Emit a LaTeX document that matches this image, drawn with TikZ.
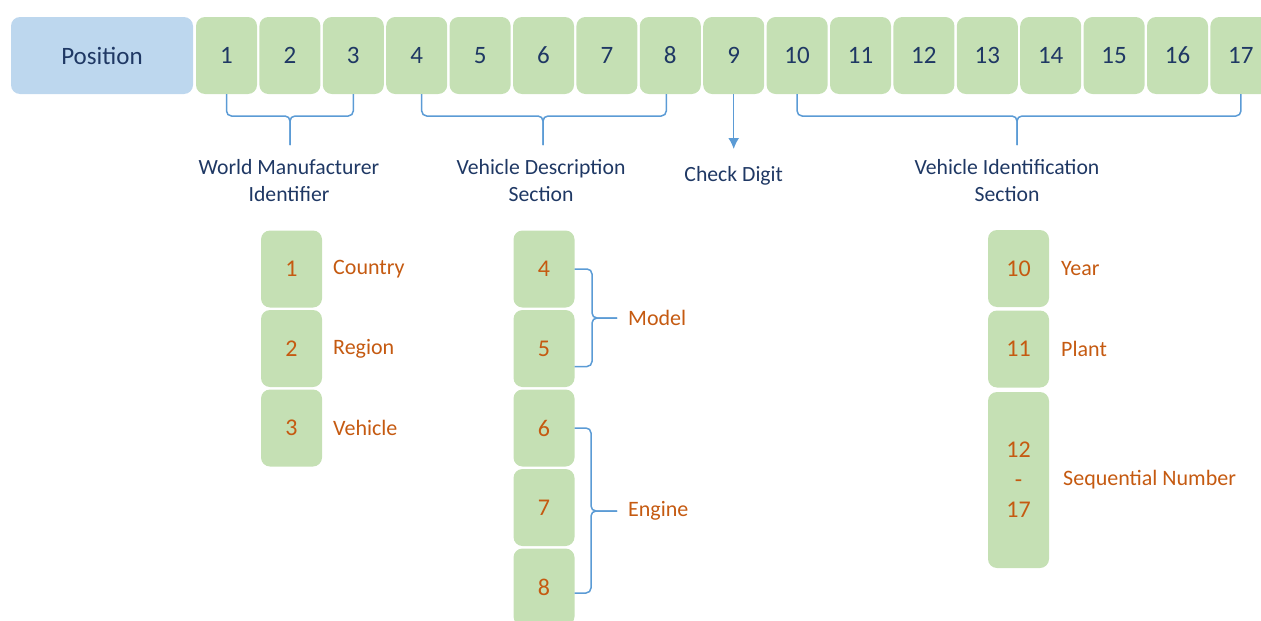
\documentclass[tikz,border=0pt]{standalone}
\usepackage{fontspec}
\setmainfont{Carlito}
\usetikzlibrary{positioning,arrows.meta}

\definecolor{posblue}{HTML}{BDD7EE}
\definecolor{digitgreen}{HTML}{C5E0B4}
\definecolor{navy}{HTML}{1F3864}
\definecolor{rust}{HTML}{C55A11}
\definecolor{bracecol}{HTML}{5B9BD5}

\tikzset{
  digit/.style={fill=digitgreen, rounded corners=9pt, minimum width=61pt,
    minimum height=77pt, inner sep=0pt, outer sep=0pt, text=navy,
    font=\fontsize{25}{30}\selectfont},
  field/.style={digit, text=rust, font=\fontsize{24}{30}\selectfont},
  sec/.style={text=navy, inner sep=0pt, align=center, font=\fontsize{21.7}{27}\selectfont},
  lbl/.style={text=rust, inner sep=0pt, font=\fontsize{22}{26}\selectfont},
  brace/.style={draw=bracecol, line width=1.5pt, rounded corners=5pt},
}

\begin{document}
\begin{tikzpicture}[x=1pt,y=-1pt]

\useasboundingbox (0,0) rectangle (1261,621);
\clip (0,0) rectangle (1261,621);

% Row of positions
\node[digit, fill=posblue, minimum width=182pt] (position) at (102,55.5) {Position};
\node[digit, right=3pt of position] (d1) {1};
\node[digit, right=2.4pt of d1] (d2) {2};
\node[digit, right=2.4pt of d2] (d3) {3};
\node[digit, right=2.4pt of d3] (d4) {4};
\node[digit, right=2.4pt of d4] (d5) {5};
\node[digit, right=2.4pt of d5] (d6) {6};
\node[digit, right=2.4pt of d6] (d7) {7};
\node[digit, right=2.4pt of d7] (d8) {8};
\node[digit, right=2.4pt of d8] (d9) {9};
\node[digit, right=2.4pt of d9] (d10) {10};
\node[digit, right=2.4pt of d10] (d11) {11};
\node[digit, right=2.4pt of d11] (d12) {12};
\node[digit, right=2.4pt of d12] (d13) {13};
\node[digit, right=2.4pt of d13] (d14) {14};
\node[digit, right=2.4pt of d14] (d15) {15};
\node[digit, right=2.4pt of d15] (d16) {16};
\node[digit, right=2.4pt of d16] (d17) {17};

% Braces under the row
\coordinate (wmi) at (290,116);
\coordinate (wmi tip) at (290,145);
\draw[brace] (d1.south) |- (wmi) -- (wmi tip);
\draw[brace] (d3.south) |- (wmi) -- (wmi tip);

\coordinate (vds) at (543,116);
\coordinate (vds tip) at (543,145);
\draw[brace] ([xshift=5pt]d4.south) |- (vds) -- (vds tip);
\draw[brace] ([xshift=-4pt]d8.south) |- (vds) -- (vds tip);

\coordinate (vis) at (1017,116);
\coordinate (vis tip) at (1017,145);
\draw[brace] (d10.south) |- (vis) -- (vis tip);
\draw[brace] (d17.south) |- (vis) -- (vis tip);

\node[sec] (wmi lbl) at (289,181) {World Manufacturer\\Identifier};
\node[sec] (vds lbl) at (541,181) {Vehicle Description\\Section};
\node[sec] (vis lbl) at (1007,181) {Vehicle Identification\\Section};

% Check digit
\node[sec, below=72pt of d9] (check) {Check Digit};
\draw[draw=bracecol, line width=1.5pt, ->, >={Latex[length=11pt,width=11pt]}, shorten >=17pt] (d9) -- (check);

% World manufacturer identifier
\node[field] (c1) at (291.5,269) {1};
\node[field, below=2.5pt of c1] (c2) {2};
\node[field, below=2.5pt of c2] (c3) {3};
\node[lbl, right=11pt of c1] (country) {Country};
\node[lbl, right=11pt of c2] (region) {Region};
\node[lbl, right=11pt of c3] (vehicle) {Vehicle};

% Vehicle description section
\node[field] (c4) at (544,269) {4};
\node[field, below=2.5pt of c4] (c5) {5};
\node[field, below=2.5pt of c5] (c6) {6};
\node[field, below=2.5pt of c6] (c7) {7};
\node[field, below=2.5pt of c7] (c8) {8};

\coordinate (model) at (592,318);
\coordinate (model tip) at (617,318);
\draw[brace] (c4.east) -| (model) -- (model tip);
\draw[brace] ([yshift=-18pt]c5.east) -| (model) -- (model tip);
\node[lbl, right=11pt of model tip] (model lbl) {Model};

\coordinate (engine) at (591,511);
\coordinate (engine tip) at (617,511);
\draw[brace] (c6.east) -| (engine) -- (engine tip);
\draw[brace] ([yshift=-6pt]c8.east) -| (engine) -- (engine tip);
\node[lbl, right=11pt of engine tip] (engine lbl) {Engine};

% Vehicle identification section
\node[field] (c10) at (1018.5,268.5) {10};
\node[field, below=3.5pt of c10] (c11) {11};
\node[field, below=4.5pt of c11, minimum height=176pt, align=center] (c12) {12\\-\\17};
\node[lbl, right=12pt of c10] (year) {Year};
\node[lbl, right=12pt of c11] (plant) {Plant};
\node[lbl, right=14pt of c12] (seq) {Sequential Number};

\end{tikzpicture}
\end{document}
